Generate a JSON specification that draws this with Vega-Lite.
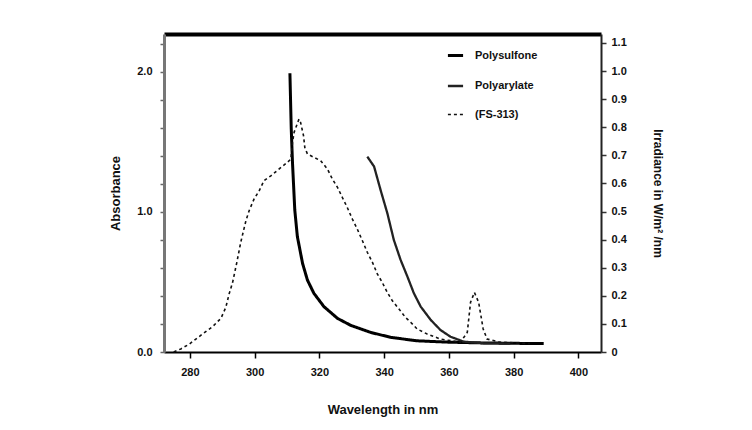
{
  "$schema": "https://vega.github.io/schema/vega-lite/v6.json",
  "autosize": "none",
  "width": 437,
  "height": 318,
  "padding": {"left": 164, "top": 34, "right": 151, "bottom": 78},
  "background": "white",
  "config": {
    "view": {"stroke": null},
    "font": "Liberation Sans",
    "axis": {"labelFont": "Liberation Sans", "titleFont": "Liberation Sans", "labelFontWeight": "bold", "titleFontWeight": "bold", "labelColor": "#111", "titleColor": "#111", "grid": false}
  },
  "data": {"values": [
    {"series": "Polysulfone", "wl": 310.9, "v": 1.99},
    {"series": "Polysulfone", "wl": 311.3, "v": 1.6},
    {"series": "Polysulfone", "wl": 311.7, "v": 1.348},
    {"series": "Polysulfone", "wl": 312.4, "v": 1.014},
    {"series": "Polysulfone", "wl": 313.2, "v": 0.824},
    {"series": "Polysulfone", "wl": 314.8, "v": 0.633},
    {"series": "Polysulfone", "wl": 316.3, "v": 0.514},
    {"series": "Polysulfone", "wl": 318.3, "v": 0.419},
    {"series": "Polysulfone", "wl": 321.4, "v": 0.324},
    {"series": "Polysulfone", "wl": 325.6, "v": 0.24},
    {"series": "Polysulfone", "wl": 329.7, "v": 0.19},
    {"series": "Polysulfone", "wl": 335.8, "v": 0.14},
    {"series": "Polysulfone", "wl": 342.0, "v": 0.105},
    {"series": "Polysulfone", "wl": 350.0, "v": 0.08},
    {"series": "Polysulfone", "wl": 360.0, "v": 0.07},
    {"series": "Polysulfone", "wl": 370.0, "v": 0.065},
    {"series": "Polysulfone", "wl": 380.0, "v": 0.062},
    {"series": "Polysulfone", "wl": 389.3, "v": 0.06},
    {"series": "Polyarylate", "wl": 334.8, "v": 1.395},
    {"series": "Polyarylate", "wl": 336.9, "v": 1.324},
    {"series": "Polyarylate", "wl": 338.9, "v": 1.157},
    {"series": "Polyarylate", "wl": 341.0, "v": 0.99},
    {"series": "Polyarylate", "wl": 343.0, "v": 0.8},
    {"series": "Polyarylate", "wl": 345.1, "v": 0.657},
    {"series": "Polyarylate", "wl": 347.2, "v": 0.538},
    {"series": "Polyarylate", "wl": 349.2, "v": 0.419},
    {"series": "Polyarylate", "wl": 351.3, "v": 0.324},
    {"series": "Polyarylate", "wl": 354.4, "v": 0.229},
    {"series": "Polyarylate", "wl": 357.4, "v": 0.157},
    {"series": "Polyarylate", "wl": 360.5, "v": 0.109},
    {"series": "Polyarylate", "wl": 364.6, "v": 0.074},
    {"series": "Polyarylate", "wl": 370.8, "v": 0.062},
    {"series": "Polyarylate", "wl": 379.0, "v": 0.06},
    {"series": "(FS-313)", "wl": 275.0, "v": 0.0},
    {"series": "(FS-313)", "wl": 277.2, "v": 0.011},
    {"series": "(FS-313)", "wl": 279.8, "v": 0.028},
    {"series": "(FS-313)", "wl": 283.9, "v": 0.064},
    {"series": "(FS-313)", "wl": 287.0, "v": 0.09},
    {"series": "(FS-313)", "wl": 289.6, "v": 0.12},
    {"series": "(FS-313)", "wl": 291.1, "v": 0.159},
    {"series": "(FS-313)", "wl": 292.1, "v": 0.206},
    {"series": "(FS-313)", "wl": 293.2, "v": 0.248},
    {"series": "(FS-313)", "wl": 294.5, "v": 0.319},
    {"series": "(FS-313)", "wl": 295.7, "v": 0.39},
    {"series": "(FS-313)", "wl": 297.3, "v": 0.467},
    {"series": "(FS-313)", "wl": 298.3, "v": 0.503},
    {"series": "(FS-313)", "wl": 299.8, "v": 0.544},
    {"series": "(FS-313)", "wl": 301.4, "v": 0.574},
    {"series": "(FS-313)", "wl": 302.9, "v": 0.61},
    {"series": "(FS-313)", "wl": 305.0, "v": 0.627},
    {"series": "(FS-313)", "wl": 307.5, "v": 0.651},
    {"series": "(FS-313)", "wl": 310.1, "v": 0.675},
    {"series": "(FS-313)", "wl": 311.2, "v": 0.687},
    {"series": "(FS-313)", "wl": 311.7, "v": 0.746},
    {"series": "(FS-313)", "wl": 312.2, "v": 0.782},
    {"series": "(FS-313)", "wl": 313.7, "v": 0.829},
    {"series": "(FS-313)", "wl": 314.2, "v": 0.817},
    {"series": "(FS-313)", "wl": 315.1, "v": 0.77},
    {"series": "(FS-313)", "wl": 315.5, "v": 0.728},
    {"series": "(FS-313)", "wl": 316.3, "v": 0.705},
    {"series": "(FS-313)", "wl": 318.3, "v": 0.693},
    {"series": "(FS-313)", "wl": 320.4, "v": 0.681},
    {"series": "(FS-313)", "wl": 322.5, "v": 0.651},
    {"series": "(FS-313)", "wl": 324.0, "v": 0.616},
    {"series": "(FS-313)", "wl": 325.6, "v": 0.586},
    {"series": "(FS-313)", "wl": 327.1, "v": 0.55},
    {"series": "(FS-313)", "wl": 328.6, "v": 0.515},
    {"series": "(FS-313)", "wl": 330.2, "v": 0.473},
    {"series": "(FS-313)", "wl": 331.7, "v": 0.438},
    {"series": "(FS-313)", "wl": 333.3, "v": 0.396},
    {"series": "(FS-313)", "wl": 334.8, "v": 0.355},
    {"series": "(FS-313)", "wl": 336.4, "v": 0.319},
    {"series": "(FS-313)", "wl": 337.9, "v": 0.278},
    {"series": "(FS-313)", "wl": 339.4, "v": 0.248},
    {"series": "(FS-313)", "wl": 341.0, "v": 0.212},
    {"series": "(FS-313)", "wl": 342.5, "v": 0.183},
    {"series": "(FS-313)", "wl": 344.6, "v": 0.153},
    {"series": "(FS-313)", "wl": 346.6, "v": 0.123},
    {"series": "(FS-313)", "wl": 348.2, "v": 0.106},
    {"series": "(FS-313)", "wl": 350.2, "v": 0.082},
    {"series": "(FS-313)", "wl": 353.3, "v": 0.064},
    {"series": "(FS-313)", "wl": 357.4, "v": 0.046},
    {"series": "(FS-313)", "wl": 363.6, "v": 0.035},
    {"series": "(FS-313)", "wl": 365.7, "v": 0.07},
    {"series": "(FS-313)", "wl": 366.7, "v": 0.177},
    {"series": "(FS-313)", "wl": 367.9, "v": 0.212},
    {"series": "(FS-313)", "wl": 369.2, "v": 0.177},
    {"series": "(FS-313)", "wl": 370.6, "v": 0.082},
    {"series": "(FS-313)", "wl": 371.8, "v": 0.046},
    {"series": "(FS-313)", "wl": 375.9, "v": 0.035},
    {"series": "(FS-313)", "wl": 385.0, "v": 0.03}
  ]},
  "encoding": {
    "x": {"field": "wl", "type": "quantitative", "scale": {"domain": [272, 407], "nice": false, "zero": false}},
    "color": {"field": "series", "type": "nominal", "scale": {"domain": ["Polysulfone", "Polyarylate", "(FS-313)"], "range": ["#000000", "#222222", "#111111"]},
      "legend": {"title": null, "orient": "none", "legendX": 282, "legendY": 12, "symbolType": "stroke", "symbolSize": 230, "labelFont": "Liberation Sans", "labelFontWeight": "bold", "labelFontSize": 11, "labelColor": "#111", "rowPadding": 15, "labelOffset": 10}},
    "strokeDash": {"field": "series", "type": "nominal", "scale": {"domain": ["Polysulfone", "Polyarylate", "(FS-313)"], "range": [[1, 0], [1, 0], [3, 3]]},
      "legend": {"title": null, "orient": "none", "legendX": 282, "legendY": 12, "symbolType": "stroke", "symbolSize": 230, "labelFont": "Liberation Sans", "labelFontWeight": "bold", "labelFontSize": 11, "labelColor": "#111", "rowPadding": 15, "labelOffset": 10}},
    "strokeWidth": {"field": "series", "type": "nominal", "scale": {"domain": ["Polysulfone", "Polyarylate", "(FS-313)"], "range": [3, 1.6, 2.2]},
      "legend": {"title": null, "orient": "none", "legendX": 282, "legendY": 12, "symbolType": "stroke", "symbolSize": 230, "labelFont": "Liberation Sans", "labelFontWeight": "bold", "labelFontSize": 11, "labelColor": "#111", "rowPadding": 15, "labelOffset": 10}}
  },
  "layer": [
    {
      "transform": [{"filter": "datum.series != '(FS-313)'"}],
      "mark": {"type": "line"},
      "encoding": {
        "x": {"field": "wl", "type": "quantitative", "scale": {"domain": [272, 407], "nice": false, "zero": false},
          "axis": {"title": "Wavelength in nm", "values": [280, 300, 320, 340, 360, 380, 400], "format": "d", "domainColor": "#000", "domainWidth": 2, "tickColor": "#000", "tickSize": 6, "tickWidth": 1.5, "labelFontSize": 11, "labelPadding": 8, "titleFontSize": 13, "titlePadding": 26}},
        "y": {"field": "v", "type": "quantitative", "scale": {"domain": [0, 2.27], "nice": false},
          "axis": {"title": "Absorbance", "orient": "left", "values": [0, 0.2, 0.4, 0.6, 0.8, 1, 1.2, 1.4, 1.6, 1.8, 2, 2.2], "labelExpr": "datum.value == 0 || datum.value == 1 || datum.value == 2 ? format(datum.value, '.1f') : ''", "domainColor": "#777", "domainWidth": 3, "tickColor": "#666", "tickSize": 4, "tickWidth": 1.5, "labelFontSize": 11, "labelPadding": 8, "titleFontSize": 13, "titlePadding": 14}}
      }
    },
    {
      "transform": [{"filter": "datum.series == '(FS-313)'"}],
      "mark": {"type": "line"},
      "encoding": {
        "x": {"field": "wl", "type": "quantitative", "scale": {"domain": [272, 407], "nice": false, "zero": false},
          "axis": {"orient": "top", "title": null, "labels": false, "ticks": false, "domainColor": "#000", "domainWidth": 4}},
        "y": {"field": "v", "type": "quantitative", "scale": {"domain": [0, 1.132], "nice": false},
          "axis": {"title": "Irradiance in W/m² /nm", "orient": "right", "values": [0, 0.1, 0.2, 0.3, 0.4, 0.5, 0.6, 0.7, 0.8, 0.9, 1, 1.1], "labelExpr": "datum.value == 0 ? '0' : format(datum.value, '.1f')", "domainColor": "#222", "domainWidth": 2, "tickColor": "#333", "tickSize": 5, "tickWidth": 1.5, "labelFontSize": 11, "labelPadding": 5, "titleFontSize": 12, "titlePadding": 24}}
      }
    }
  ],
  "resolve": {"scale": {"y": "independent"}, "axis": {"x": "independent"}}
}
